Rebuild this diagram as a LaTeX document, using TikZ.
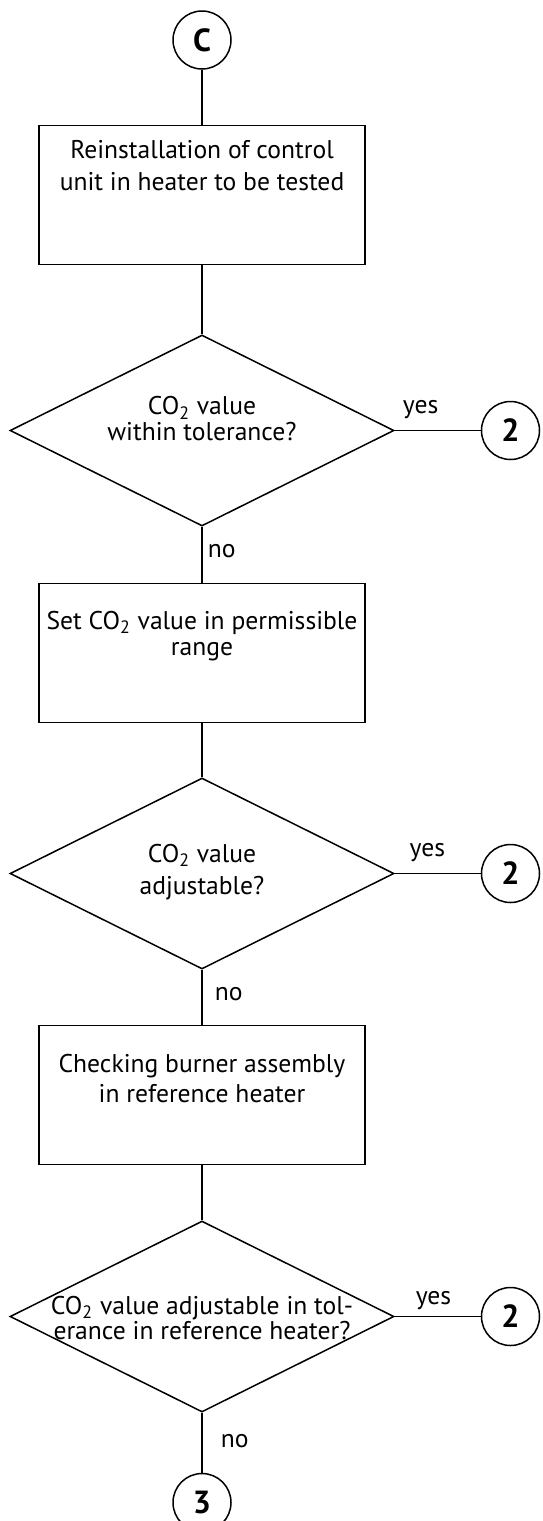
\documentclass[tikz,border=0pt]{standalone}
\usepackage{fontspec}
\setmainfont{PT Sans}
\usepackage{tikz}
\usetikzlibrary{shapes.geometric, positioning}
\newcommand{\fsz}[1]{\fontsize{12.8pt}{#1}\selectfont\lineskiplimit=-20pt}
\newcommand{\cotwo}{CO\textsubscript{2}}
\tikzstyle{connector} = [draw, circle, minimum size=29pt, inner sep=0pt, line width=0.75pt, font=\fontsize{16pt}{16pt}\selectfont\bfseries]
\tikzstyle{process} = [draw, rectangle, minimum width=163pt, minimum height=69.5pt, line width=0.75pt]
\tikzstyle{decision} = [draw, diamond, minimum width=192pt, minimum height=95.5pt, inner sep=0pt, line width=0.75pt]
\tikzstyle{boxtext} = [align=center, inner sep=0pt, anchor=north]
\tikzstyle{lbl} = [inner sep=0pt, font=\fsz{12pt}]
\tikzstyle{line} = [line width=0.75pt]

\begin{document}
\begin{tikzpicture}[x=0.5pt, y=-0.5pt]
    \useasboundingbox (0,0) rectangle (542,1521);
    \node [connector] (c1) at (202,40) {C};
    \node [process, below=27.5pt of c1] (box1) {};
    \node [decision, below=34.5pt of box1] (d1) {};
    \node [connector, right=43pt of d1] (c2a) {2};
    \node [process, below=28pt of d1] (box2) {};
    \node [decision, below=27pt of box2] (d2) {};
    \node [connector, right=43pt of d2] (c2b) {2};
    \node [process, below=27.5pt of d2] (box3) {};
    \node [decision, below=27.5pt of box3] (d3) {};
    \node [connector, right=43pt of d3] (c2c) {2};
    \node [connector, below=30pt of d3] (c3) {3};
    % texts
    \node [boxtext, font=\fsz{16pt}, below=7.5pt of box1.north] (box1txt) {Reinstallation of control\\unit in heater to be tested};
    \node [boxtext, font=\fsz{13pt}] (d1txt) at ([yshift=17.25pt]d1.center) {\cotwo{} value\\within tolerance?};
    \node [boxtext, font=\fsz{13pt}, below=14pt of box2.north] (box2txt) {Set \cotwo{} value in permissible\\range};
    \node [boxtext, font=\fsz{16pt}] (d2txt) at ([yshift=15pt]d2.center) {\cotwo{} value\\adjustable?};
    \node [boxtext, font=\fsz{15pt}, below=14.5pt of box3.north] (box3txt) {Checking burner assembly\\in reference heater};
    \node [boxtext, font=\fsz{12.5pt}] (d3txt) at ([yshift=10.5pt]d3.center) {\cotwo{} value adjustable in tol-\\erance in reference heater?};
    % connectors
    \draw [line] (c1) -- (box1);
    \draw [line] (box1) -- (d1);
    \draw [line] (d1) -- node[lbl, pos=0.30, anchor=base, yshift=8.75pt] {yes} (c2a);
    \draw [line] (d1) -- node[lbl, pos=0.54, anchor=base west, xshift=2.5pt] {no} (box2);
    \draw [line] (box2) -- (d2);
    \draw [line] (d2) -- node[lbl, pos=0.38, anchor=base, yshift=8.75pt] {yes} (c2b);
    \draw [line] (d2) -- node[lbl, pos=0.55, anchor=base west, xshift=6pt] {no} (box3);
    \draw [line] (box3) -- (d3);
    \draw [line] (d3) -- node[lbl, pos=0.45, anchor=base, yshift=6.25pt] {yes} (c2c);
    \draw [line] (d3) -- node[lbl, pos=0.58, anchor=base west, xshift=9pt] {no} (c3);
\end{tikzpicture}
\end{document}
